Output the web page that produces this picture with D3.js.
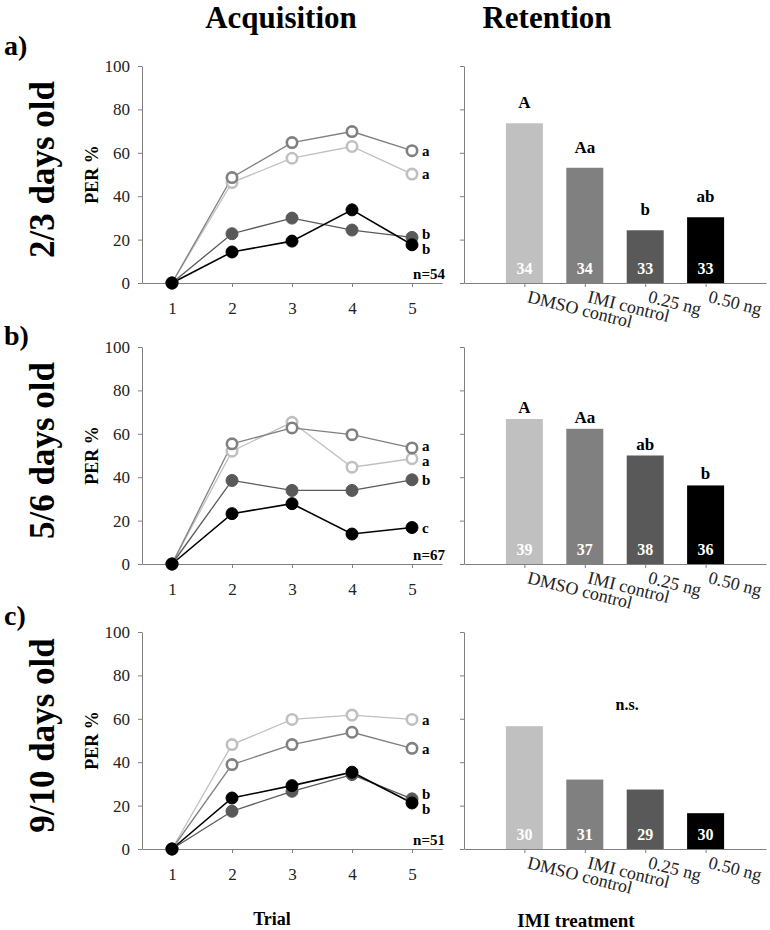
<!DOCTYPE html>
<html>
<head>
<meta charset="utf-8">
<script src="https://cdn.jsdelivr.net/npm/d3@7/dist/d3.min.js"></script>
<style>
    body { margin: 0; background: #fff; }
    svg text { font-family: "Liberation Serif", "Times New Roman", serif; }
    .axis path, .axis line { stroke: #808080; }
    .axis text { font-size: 17px; fill: #222; }
</style>
</head>
<body>
<div class="chart-svg"></div>
<script>
// categories
var treatments = ["DMSO control", "IMI control", "0.25 ng", "0.50 ng"];
var trials = [1, 2, 3, 4, 5];
var panelTags = ["a)", "b)", "c)"];
var ageLabels = ["2/3 days old", "5/6 days old", "9/10 days old"];
var sampleSizes = ["n=54", "n=67", "n=51"];
var yTicks = [0, 20, 40, 60, 80, 100];

// acquisition: PER % per trial, one row per treatment
var acquisitionA = [
    [0, 46.3, 57.5, 62.9, 50.2],
    [0, 48.6, 64.7, 69.8, 61.0],
    [0, 22.7, 29.9, 24.4, 21.0],
    [0, 14.3, 19.3, 33.7, 17.6]
];
var acquisitionB = [
    [0, 52.0, 65.3, 44.6, 48.5],
    [0, 55.4, 62.7, 59.6, 53.5],
    [0, 38.5, 33.9, 33.9, 38.8],
    [0, 23.2, 27.8, 13.8, 16.8]
];
var acquisitionC = [
    [0, 48.1, 59.7, 61.7, 59.7],
    [0, 38.9, 48.1, 53.8, 46.4],
    [0, 17.4, 26.6, 34.3, 23.1],
    [0, 23.5, 29.2, 35.4, 21.2]
];
var acqLettersA = ["a", "a", "b", "b"];
var acqLettersB = ["a", "a", "b", "c"];
var acqLettersC = ["a", "a", "b", "b"];

// retention
var retentionA = [73.6, 53.1, 24.3, 30.3];
var retentionB = [66.8, 62.3, 50.0, 36.2];
var retentionC = [56.6, 32.0, 27.4, 16.5];
var retLettersA = ["A", "Aa", "b", "ab"];
var retLettersB = ["A", "Aa", "ab", "b"];
var retLettersC = null;
var retCountsA = [34, 34, 33, 33];
var retCountsB = [39, 37, 38, 36];
var retCountsC = [30, 31, 29, 30];

var colors = ["#c0c0c0", "#808080", "#595959", "#000000"];
var openMarker = [true, true, false, false];

var rows = [
    {acq: acquisitionA, acqLetters: acqLettersA, ret: retentionA, retLetters: retLettersA, counts: retCountsA, top: 66, tagY: 55, letterGap: 15},
    {acq: acquisitionB, acqLetters: acqLettersB, ret: retentionB, retLetters: retLettersB, counts: retCountsB, top: 347, tagY: 345, letterGap: 6},
    {acq: acquisitionC, acqLetters: acqLettersC, ret: retentionC, retLetters: retLettersC, counts: retCountsC, top: 632, tagY: 625, letterGap: 8}
];

var svgWidth = 770;
var svgHeight = 930;
var plotHeight = 217;
var labelGap = 15;

var svg = d3.select(".chart-svg")
        .append("svg")
        .attr("width", svgWidth)
        .attr("height", svgHeight);

// column titles
svg.append("text").attr("x", 281).attr("y", 28).attr("text-anchor", "middle")
    .style("font-size", "31px").style("font-weight", "bold").text("Acquisition");
svg.append("text").attr("x", 547).attr("y", 28).attr("text-anchor", "middle")
    .style("font-size", "31px").style("font-weight", "bold").text("Retention");

var xLine = d3.scaleLinear().domain([0.5, 5.5]).range([142, 442]);
var xBar = d3.scaleLinear().domain([0, 5]).range([464, 766]);
var barWidth = 37;

rows.forEach(function(row, r){
    var yScale = d3.scaleLinear().domain([0, 100]).range([row.top + plotHeight, row.top]);
    var bottom = row.top + plotHeight;
    var g = svg.append("g").attr("class", "row");

    // row labels
    g.append("text").attr("x", 4).attr("y", row.tagY)
        .style("font-size", "28px").style("font-weight", "bold").text(panelTags[r]);
    g.append("text")
        .attr("transform", "translate(54," + (row.top + plotHeight / 2 - 5) + ") rotate(-90)")
        .attr("text-anchor", "middle")
        .style("font-size", "35px").style("font-weight", "bold").text(ageLabels[r]);
    g.append("text")
        .attr("transform", "translate(98," + (row.top + plotHeight / 2) + ") rotate(-90)")
        .attr("text-anchor", "middle")
        .style("font-size", "18px").style("font-weight", "bold").text("PER %");

    // line chart axes
    g.append("g").attr("class", "axis")
        .attr("transform", "translate(0," + bottom + ")")
        .call(d3.axisBottom(xLine).tickValues(trials).tickFormat(d3.format("d"))
            .tickSize(4).tickSizeOuter(0).tickPadding(15));
    g.append("g").attr("class", "axis")
        .attr("transform", "translate(142,0)")
        .call(d3.axisLeft(yScale).tickValues(yTicks).tickSize(4).tickSizeOuter(0).tickPadding(8));

    var line = d3.line()
        .x(function(d, i){ return xLine(trials[i]); })
        .y(function(d){ return yScale(d); });

    row.acq.forEach(function(series, s){
        g.append("path")
            .datum(series)
            .attr("d", line)
            .attr("fill", "none")
            .attr("stroke", colors[s])
            .attr("stroke-width", s == 3 ? 1.6 : 1.3);
    });
    row.acq.forEach(function(series, s){
        g.selectAll(null)
            .data(series)
            .enter()
            .append("circle")
            .attr("cx", function(d, i){ return xLine(trials[i]); })
            .attr("cy", function(d){ return yScale(d); })
            .attr("r", openMarker[s] ? 5.2 : 6)
            .attr("fill", openMarker[s] ? "#fff" : colors[s])
            .attr("stroke", colors[s])
            .attr("stroke-width", openMarker[s] ? 2.6 : 1);
    });

    // significance letters at trial 5, nudged apart
    var labels = row.acq.map(function(series, s){
        return {text: row.acqLetters[s], y: yScale(series[series.length - 1])};
    }).sort(function(a, b){ return a.y - b.y; });
    for (var k = 0; k < 20; k++){
        for (var j = 1; j < labels.length; j++){
            var gap = labels[j].y - labels[j - 1].y;
            if (gap < labelGap){
                labels[j - 1].y -= (labelGap - gap) / 2;
                labels[j].y += (labelGap - gap) / 2;
            }
        }
    }
    g.selectAll(null)
        .data(labels)
        .enter()
        .append("text")
        .attr("x", xLine(5) + 10)
        .attr("y", function(d){ return d.y; })
        .attr("dy", "0.35em")
        .style("font-size", "15px").style("font-weight", "bold")
        .text(function(d){ return d.text; });

    g.append("text").attr("x", 445).attr("y", bottom - 4).attr("text-anchor", "end")
        .style("font-size", "15px").style("font-weight", "bold").text(sampleSizes[r]);

    // bar chart
    g.append("g").attr("class", "axis")
        .attr("transform", "translate(464,0)")
        .call(d3.axisLeft(yScale).tickValues(yTicks).tickSize(4).tickSizeOuter(0).tickFormat(""));
    g.append("g").attr("class", "axis")
        .attr("transform", "translate(0," + bottom + ")")
        .call(d3.axisBottom(xBar).tickValues([1, 2, 3, 4]).tickSize(4).tickSizeOuter(0).tickFormat(""));

    g.selectAll(null)
        .data(row.ret)
        .enter()
        .append("rect")
        .attr("x", function(d, i){ return xBar(i + 1) - barWidth / 2; })
        .attr("y", function(d){ return yScale(d); })
        .attr("width", barWidth)
        .attr("height", function(d){ return bottom - yScale(d); })
        .attr("fill", function(d, i){ return colors[i]; });

    g.selectAll(null)
        .data(row.counts)
        .enter()
        .append("text")
        .attr("x", function(d, i){ return xBar(i + 1); })
        .attr("y", bottom - 9)
        .attr("text-anchor", "middle")
        .attr("fill", "#fff")
        .style("font-size", "16px").style("font-weight", "bold")
        .text(function(d){ return d; });

    if (row.retLetters){
        g.selectAll(null)
            .data(row.ret)
            .enter()
            .append("text")
            .attr("x", function(d, i){ return xBar(i + 1); })
            .attr("y", function(d){ return yScale(d) - row.letterGap; })
            .attr("text-anchor", "middle")
            .style("font-size", "17px").style("font-weight", "bold")
            .text(function(d, i){ return row.retLetters[i]; });
    } else {
        g.append("text")
            .attr("x", xBar(2.7))
            .attr("y", yScale(d3.max(row.ret)) - 16)
            .attr("text-anchor", "middle")
            .style("font-size", "16px").style("font-weight", "bold")
            .text("n.s.");
    }

    g.selectAll(null)
        .data(treatments)
        .enter()
        .append("text")
        .attr("transform", function(d, i){
            return "translate(" + (xBar(i + 1) + 2) + "," + (bottom + 19) + ") rotate(14)";
        })
        .style("font-size", "18px")
        .attr("fill", "#222")
        .text(function(d){ return d; });
});

// bottom axis titles
svg.append("text").attr("x", 272).attr("y", 925).attr("text-anchor", "middle")
    .style("font-size", "18px").style("font-weight", "bold").text("Trial");
svg.append("text").attr("x", 576).attr("y", 927).attr("text-anchor", "middle")
    .style("font-size", "19px").style("font-weight", "bold").text("IMI treatment");
</script>
</body>
</html>
